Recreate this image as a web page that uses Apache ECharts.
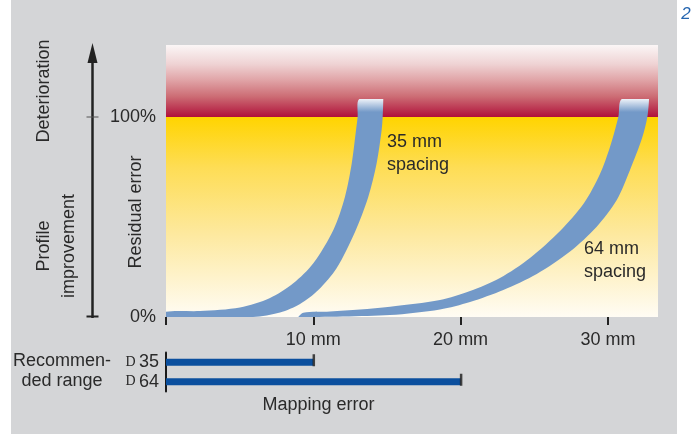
<!DOCTYPE html>
<html><head><meta charset="utf-8">
<style>html,body{margin:0;padding:0;background:#fff;}#c{width:694px;height:434px;}</style>
<script src="https://cdn.jsdelivr.net/npm/echarts@6.0.0/dist/echarts.min.js"></script>
</head><body><div id="c"></div>
<script>
// ---- data ----
const xTickValues = [0, 10, 20, 30];
const xLabelValues = [10, 20, 30];
const yLabelValues = [0, 100];
// band outlines: [mapping error (mm), residual error (%)]
const band35Upper = [[0,2.65],[2.31,3],[5.02,4.75],[7.06,9.5],[8.64,16.85],[10.0,26.85],[11.36,43.5],[12.15,60.15],[12.61,76.85],[12.90,93.5],[13.01,100.15],[13.12,109]];
const band35Lower = [[0,0],[5.91,0],[7.74,2.25],[9.10,6.5],[10.34,13.5],[11.59,24.5],[12.83,42.5],[13.73,60],[14.30,76.85],[14.64,93.5],[14.71,100.15],[14.75,109]];
const band64Upper = [[9.32,2.15],[11.13,2.75],[13.17,3.75],[15.21,5.15],[18.60,8.5],[20.64,13],[22.67,19.5],[24.71,29.5],[26.75,43],[28.38,57],[29.46,71.5],[30.14,85],[30.71,100.15],[30.94,109]];
const band64Lower = [[8.98,0],[15.21,1],[18.60,3.75],[20.64,7.5],[22.90,13.5],[25.17,21.5],[27.43,32.75],[29.24,45.15],[30.60,58.5],[31.50,73.5],[32.32,89.5],[32.68,100.15],[32.79,109]];
const bandLabels = ['35 mm\nspacing', '64 mm\nspacing'];
const bandLabelAnchors = [[15.0, 81.5], [28.38, 28]];
const rangeCategories = ['D 35', 'D 64'];
const rangeValues = [10, 20];

const FONT = '"Liberation Sans", Arial, sans-serif';
const TXT = '#2a2a2a';
const chart = echarts.init(document.getElementById('c'), null, {renderer: 'canvas'});

function bandSeries(upper, lower, label, anchor) {
  return {
    type: 'custom', xAxisIndex: 0, yAxisIndex: 0, clip: false, silent: true,
    data: [anchor],
    renderItem: function (params, api) {
      const pts = upper.map(p => api.coord(p)).concat(lower.slice().reverse().map(p => api.coord(p)));
      let minX = Infinity, minY = Infinity, maxX = -Infinity, maxY = -Infinity;
      pts.forEach(p => { minX = Math.min(minX, p[0]); maxX = Math.max(maxX, p[0]); minY = Math.min(minY, p[1]); maxY = Math.max(maxY, p[1]); });
      const a = api.coord(anchor);
      return { type: 'group', children: [
        { type: 'polygon', shape: { points: pts, smooth: 0.3, smoothConstraint: [[minX, minY], [maxX, maxY]] },
          style: { fill: new echarts.graphic.LinearGradient(0, 0, 0, 1, [
            {offset: 0, color: '#eef2f8'}, {offset: 0.06, color: '#7399c8'}, {offset: 1, color: '#7399c8'}]) } },
        { type: 'text', x: a[0], y: a[1],
          style: { text: label, fill: TXT, font: '18px ' + FONT, lineHeight: 23, align: 'left', verticalAlign: 'middle' } }
      ]};
    }
  };
}

const option = {
  animation: false,
  graphic: { elements: [
    { type: 'rect', z: -10, shape: { x: 11, y: 0, width: 666, height: 434 }, style: { fill: '#d4d5d7' } },
    { type: 'text', x: 686, y: 14, style: { text: '2', fill: '#2666b0', font: 'italic 17px ' + FONT, align: 'center', verticalAlign: 'middle' } },
    { type: 'text', x: 44, y: 91, rotation: Math.PI / 2, style: { text: 'Deterioration', fill: TXT, font: '18px ' + FONT, align: 'center', verticalAlign: 'middle' } },
    { type: 'text', x: 56.5, y: 246, rotation: Math.PI / 2, style: { text: 'Profile\nimprovement', fill: TXT, font: '18px ' + FONT, lineHeight: 25, align: 'center', verticalAlign: 'middle' } },
    { type: 'text', x: 136, y: 212, rotation: Math.PI / 2, style: { text: 'Residual error', fill: TXT, font: '18px ' + FONT, align: 'center', verticalAlign: 'middle' } },
    { type: 'text', x: 62, y: 371, style: { text: 'Recommen-\nded range', fill: TXT, font: '18px ' + FONT, lineHeight: 20, align: 'center', verticalAlign: 'middle' } },
    { type: 'text', x: 318.5, y: 405, style: { text: 'Mapping error', fill: TXT, font: '18px ' + FONT, align: 'center', verticalAlign: 'middle' } }
  ]},
  grid: [
    { left: 166, top: 45, width: 492, height: 272, show: true, borderWidth: 0,
      backgroundColor: new echarts.graphic.LinearGradient(0, 0, 0, 1, [
        {offset: 0, color: '#fbf6f6'}, {offset: 0.07, color: '#efd3d4'}, {offset: 0.13, color: '#e0a3a6'},
        {offset: 0.19, color: '#cc6c74'}, {offset: 0.2647, color: '#b0103a'},
        {offset: 0.2647, color: '#ffd400'}, {offset: 0.45, color: '#fedd55'}, {offset: 0.7, color: '#fde9a0'},
        {offset: 1, color: '#fffcf4'}]) },
    { left: 166, top: 352.5, width: 492, height: 39 }
  ],
  xAxis: [
    { gridIndex: 0, type: 'value', min: 0, max: 33.4, interval: 10,
      axisLine: { show: false }, splitLine: { show: false },
      axisTick: { show: true, customValues: xTickValues, length: 8, lineStyle: { color: '#222', width: 2 } },
      axisLabel: { customValues: xLabelValues, formatter: v => v + ' mm', margin: 14, fontSize: 18, fontFamily: FONT, color: TXT } },
    { gridIndex: 1, type: 'value', min: 0, max: 33.4, show: false }
  ],
  yAxis: [
    { gridIndex: 0, type: 'value', min: 0, max: 136, interval: 100,
      axisLine: { show: false }, axisTick: { show: false }, splitLine: { show: false },
      axisLabel: { customValues: yLabelValues, formatter: v => v + '%', margin: 10, fontSize: 18, fontFamily: FONT, color: TXT } },
    { gridIndex: 1, type: 'category', data: rangeCategories, inverse: true,
      axisLine: { show: true, lineStyle: { color: '#1a1a1a', width: 2 } }, axisTick: { show: false }, splitLine: { show: false },
      axisLabel: { margin: 7, formatter: v => { const s = v.split(' '); return '{d|' + s[0] + '} {n|' + s[1] + '}'; },
        rich: { d: { fontFamily: '"Liberation Serif", serif', fontSize: 14, color: TXT },
                n: { fontFamily: FONT, fontSize: 18, color: TXT } } } }
  ],
  series: [
    bandSeries(band35Upper, band35Lower, bandLabels[0], bandLabelAnchors[0]),
    bandSeries(band64Upper, band64Lower, bandLabels[1], bandLabelAnchors[1]),
    { type: 'custom', xAxisIndex: 0, yAxisIndex: 0, clip: false, silent: true, data: [[0, 0]],
      renderItem: function (params, api) {
        const p0 = api.coord([0, 0]), p100 = api.coord([0, 100]), pTop = api.coord([0, 136]);
        const x = p0[0] - 73.5;
        return { type: 'group', children: [
          { type: 'line', shape: { x1: x, y1: p0[1] + 1, x2: x, y2: pTop[1] + 16 }, style: { stroke: '#222', lineWidth: 2.5 } },
          { type: 'polygon', shape: { points: [[x, pTop[1] - 2], [x - 5, pTop[1] + 18], [x + 5, pTop[1] + 18]] }, style: { fill: '#222' } },
          { type: 'line', shape: { x1: x - 6, y1: p100[1], x2: x + 6, y2: p100[1] }, style: { stroke: '#555', lineWidth: 1 } },
          { type: 'line', shape: { x1: x - 6, y1: p0[1] - 0.5, x2: x + 6, y2: p0[1] - 0.5 }, style: { stroke: '#222', lineWidth: 2 } }
        ]};
      } },
    { type: 'bar', xAxisIndex: 1, yAxisIndex: 1, data: rangeValues, barWidth: 7, silent: true,
      itemStyle: { color: '#0b4f9e' } },
    { type: 'scatter', xAxisIndex: 1, yAxisIndex: 1, silent: true,
      data: rangeValues.map((v, i) => [v, rangeCategories[i]]),
      symbol: 'rect', symbolSize: [2.5, 12], symbolOffset: [0.5, -2], itemStyle: { color: '#1a1a1a' } }
  ]
};
chart.setOption(option);
</script></body></html>
